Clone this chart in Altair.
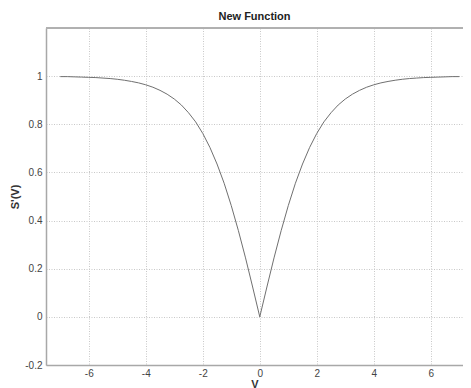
import altair as alt
import pandas as pd

V = [-7.0, -6.75, -6.5, -6.25, -6.0, -5.75, -5.5, -5.25, -5.0, -4.75, -4.5, -4.25,
     -4.0, -3.75, -3.5, -3.25, -3.0, -2.75, -2.5, -2.25, -2.0, -1.75, -1.5, -1.25,
     -1.0, -0.75, -0.5, -0.25, 0.0, 0.25, 0.5, 0.75, 1.0, 1.25, 1.5, 1.75, 2.0,
     2.25, 2.5, 2.75, 3.0, 3.25, 3.5, 3.75, 4.0, 4.25, 4.5, 4.75, 5.0, 5.25, 5.5,
     5.75, 6.0, 6.25, 6.5, 6.75, 7.0]
S = [0.998, 0.998, 0.997, 0.996, 0.995, 0.994, 0.992, 0.990, 0.987, 0.983, 0.978, 0.972,
     0.964, 0.954, 0.941, 0.925, 0.905, 0.880, 0.848, 0.810, 0.762, 0.704, 0.635, 0.555,
     0.462, 0.358, 0.245, 0.124, 0.0, 0.124, 0.245, 0.358, 0.462, 0.555, 0.635, 0.704, 0.762,
     0.810, 0.848, 0.880, 0.905, 0.925, 0.941, 0.954, 0.964, 0.972, 0.978, 0.983, 0.987, 0.990, 0.992,
     0.994, 0.995, 0.996, 0.997, 0.998, 0.998]

X_TICKS = [-6, -4, -2, 0, 2, 4, 6]
Y_TICKS = [-0.2, 0, 0.2, 0.4, 0.6, 0.8, 1]

df = pd.DataFrame({"V": V, "S": S})

W, H = 417, 337
FONT = "Liberation Sans"
LABEL = "datum.value < 0 ? '-' + format(-datum.value, '~g') : format(datum.value, '~g')"

common = dict(grid=True, gridDash=[1, 1.5], gridColor="#c8c8c8",
              domainColor="#a8a8a8", domainWidth=1.5, ticks=False,
              labelFontSize=10, labelColor="#444", labelExpr=LABEL,
              titleFontSize=11, titleFontWeight="bold", titleColor="#333")

line = alt.Chart(df).mark_line(color="#707070", strokeWidth=1).encode(
    x=alt.X("V:Q", scale=alt.Scale(domain=[-7.5, 7.13], nice=False, zero=False),
            axis=alt.Axis(values=X_TICKS, title="V", labelPadding=3, titlePadding=0,
                          **common)),
    y=alt.Y("S:Q", scale=alt.Scale(domain=[-0.2, 1.2], nice=False, zero=False),
            axis=alt.Axis(values=Y_TICKS, title="S'(V)", labelPadding=4,
                          titleX=-31, titleBaseline="middle", **common)),
)

top = alt.Chart(df).mark_rule(color="#b0b0b0", strokeWidth=1).encode(
    x=alt.value(0), x2=alt.value(W), y=alt.value(0)
)

chart = alt.layer(line, top).properties(
    width=W, height=H,
    title=alt.TitleParams("New Function", fontSize=11, fontWeight="bold",
                          color="#222", font=FONT, offset=6),
    autosize=alt.AutoSizeParams(type="none"),
    padding={"left": 38, "top": 20, "right": 0, "bottom": 30},
).configure(font=FONT).configure_view(stroke=None).configure_axis(
    labelFont=FONT, titleFont=FONT
)

chart.save("out.html", embed_options={"renderer": "svg", "actions": False})
